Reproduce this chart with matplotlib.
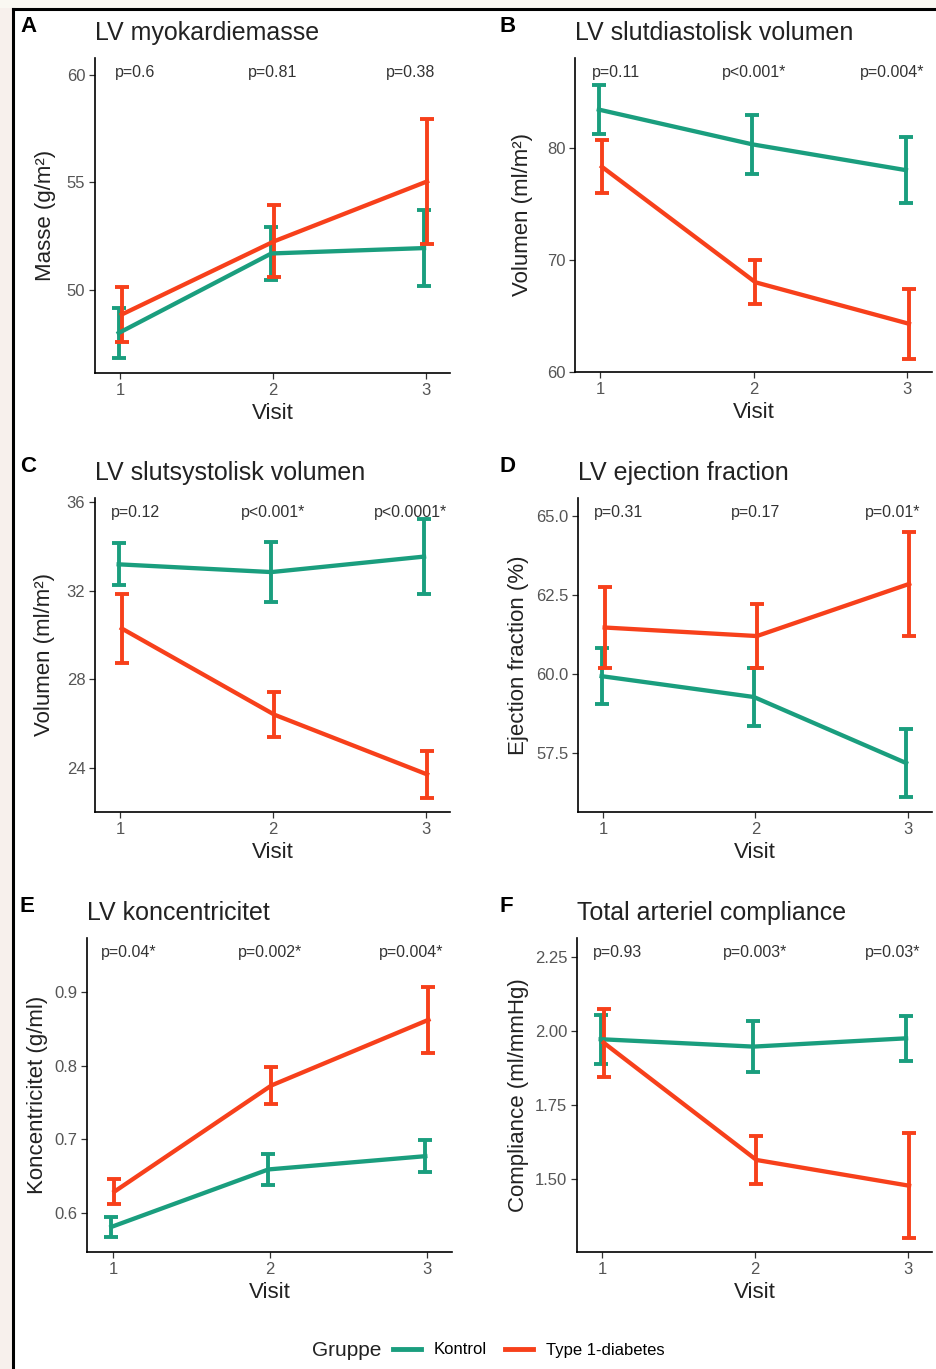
import matplotlib
matplotlib.use("Agg")
import matplotlib.pyplot as plt
from matplotlib.lines import Line2D
from matplotlib.patches import Rectangle

plt.rcParams["font.family"] = ["Liberation Sans", "DejaVu Sans"]

# ---- data -------------------------------------------------------------
visits = [1, 2, 3]
groups = ["Kontrol", "Type 1-diabetes"]

mass_kontrol = [48.0, 51.7, 51.95]
mass_kontrol_se = [1.15, 1.25, 1.77]
mass_t1d = [48.86, 52.27, 55.05]
mass_t1d_se = [1.28, 1.67, 2.9]
mass_p = ["p=0.6", "p=0.81", "p=0.38"]

edv_kontrol = [83.4, 80.3, 78.0]
edv_kontrol_se = [2.15, 2.65, 2.95]
edv_t1d = [78.3, 68.0, 64.3]
edv_t1d_se = [2.35, 1.95, 3.1]
edv_p = ["p=0.11", "p<0.001*", "p=0.004*"]

esv_kontrol = [33.2, 32.85, 33.55]
esv_kontrol_se = [0.95, 1.35, 1.68]
esv_t1d = [30.3, 26.4, 23.7]
esv_t1d_se = [1.55, 1.03, 1.08]
esv_p = ["p=0.12", "p<0.001*", "p<0.0001*"]

ef_kontrol = [59.93, 59.27, 57.18]
ef_kontrol_se = [0.88, 0.92, 1.08]
ef_t1d = [61.47, 61.2, 62.85]
ef_t1d_se = [1.27, 1.0, 1.65]
ef_p = ["p=0.31", "p=0.17", "p=0.01*"]

conc_kontrol = [0.581, 0.659, 0.677]
conc_kontrol_se = [0.0135, 0.021, 0.022]
conc_t1d = [0.629, 0.773, 0.862]
conc_t1d_se = [0.0175, 0.0255, 0.045]
conc_p = ["p=0.04*", "p=0.002*", "p=0.004*"]

comp_kontrol = [1.972, 1.947, 1.975]
comp_kontrol_se = [0.083, 0.087, 0.076]
comp_t1d = [1.96, 1.564, 1.477]
comp_t1d_se = [0.115, 0.081, 0.178]
comp_p = ["p=0.93", "p=0.003*", "p=0.03*"]

# ---- figure -----------------------------------------------------------
W, H = 937, 1369
fig = plt.figure(figsize=(W / 100, H / 100), dpi=100)
fig.patch.set_facecolor("white")

GREEN = "#1A9E7E"
RED = "#F7401B"
DODGE = 0.01


def px_rect(left, right, top, bottom):
    return [left / W, 1 - bottom / H, (right - left) / W, (bottom - top) / H]


panels = [
    dict(letter="A", title="LV myokardiemasse", ylabel="Masse (g/m²)",
         box=(95, 450, 58, 373), ylim=(46.14, 60.79), yticks=[50, 55, 60],
         fmt="{:.0f}", k=(mass_kontrol, mass_kontrol_se), t=(mass_t1d, mass_t1d_se),
         p=mass_p, ylab_x=45),
    dict(letter="B", title="LV slutdiastolisk volumen", ylabel="Volumen (ml/m²)",
         box=(575, 932, 58, 372), ylim=(60.0, 88.0), yticks=[60, 70, 80],
         fmt="{:.0f}", k=(edv_kontrol, edv_kontrol_se), t=(edv_t1d, edv_t1d_se),
         p=edv_p, ylab_x=523),
    dict(letter="C", title="LV slutsystolisk volumen", ylabel="Volumen (ml/m²)",
         box=(95, 450, 498, 812), ylim=(22.0, 36.2), yticks=[24, 28, 32, 36],
         fmt="{:.0f}", k=(esv_kontrol, esv_kontrol_se), t=(esv_t1d, esv_t1d_se),
         p=esv_p, ylab_x=45),
    dict(letter="D", title="LV ejection fraction", ylabel="Ejection fraction (%)",
         box=(578, 932, 498, 812), ylim=(55.63, 65.57), yticks=[57.5, 60.0, 62.5, 65.0],
         fmt="{:.1f}", k=(ef_kontrol, ef_kontrol_se), t=(ef_t1d, ef_t1d_se),
         p=ef_p, ylab_x=519),
    dict(letter="E", title="LV koncentricitet", ylabel="Koncentricitet (g/ml)",
         box=(87, 452, 938, 1252), ylim=(0.547, 0.973), yticks=[0.6, 0.7, 0.8, 0.9],
         fmt="{:.1f}", k=(conc_kontrol, conc_kontrol_se), t=(conc_t1d, conc_t1d_se),
         p=conc_p, ylab_x=38),
    dict(letter="F", title="Total arteriel compliance", ylabel="Compliance (ml/mmHg)",
         box=(577, 932, 938, 1252), ylim=(1.253, 2.314), yticks=[1.5, 1.75, 2.0, 2.25],
         fmt="{:.2f}", k=(comp_kontrol, comp_kontrol_se), t=(comp_t1d, comp_t1d_se),
         p=comp_p, ylab_x=519),
]

for pnl in panels:
    left, right, top, bottom = pnl["box"]
    ax = fig.add_axes(px_rect(left, right, top, bottom))
    ax.set_facecolor("white")

    for (means, se), col, off in ((pnl["k"], GREEN, -DODGE), (pnl["t"], RED, DODGE)):
        xs = [v + off for v in visits]
        ax.errorbar(xs, means, yerr=se, color=col, lw=3.1, elinewidth=2.8,
                    capsize=5.0, capthick=2.8, zorder=3)

    ax.set_xlim(0.835, 3.16)
    ax.set_ylim(*pnl["ylim"])
    ax.set_xticks(visits)
    ax.set_xticklabels([str(v) for v in visits])
    ax.set_yticks(pnl["yticks"])
    ax.set_yticklabels([pnl["fmt"].format(v) for v in pnl["yticks"]])
    ax.tick_params(axis="both", labelsize=12, labelcolor="#555555",
                   color="#333333", length=4, width=0.9, pad=3)

    for side in ("top", "right"):
        ax.spines[side].set_visible(False)
    for side in ("left", "bottom"):
        ax.spines[side].set_linewidth(1.2)
        ax.spines[side].set_color("black")

    ax.set_xlabel("Visit", fontsize=16, color="#222222", labelpad=4)
    ax.set_ylabel(pnl["ylabel"], fontsize=16, color="#222222", va="center")
    ax.yaxis.set_label_coords((pnl["ylab_x"] - left) / (right - left), 0.5)

    for xv, label in zip([1.1, 2.0, 2.9], pnl["p"]):
        ax.text(xv, 0.955, label, transform=ax.get_xaxis_transform(),
                ha="center", va="center", fontsize=11.5, color="#333333")

    fig.text(left / W, 1 - (top - 25) / H, pnl["title"], fontsize=18,
             color="#222222", ha="left", va="center")
    lx = 20 if left < 300 else 500
    fig.text(lx / W, 1 - (top - 31) / H, pnl["letter"], fontsize=16,
             fontweight="bold", color="black", ha="left", va="center")

# ---- legend -----------------------------------------------------------
fig.text(312 / W, 1 - 1350 / H, "Gruppe", fontsize=15, color="#222222",
         ha="left", va="center")
handles = [Line2D([], [], color=GREEN, lw=3.5), Line2D([], [], color=RED, lw=3.5)]
fig.legend(handles, groups, loc="center left", bbox_to_anchor=(393 / W, 1 - 1350 / H),
           ncol=2, frameon=False, fontsize=12, handlelength=1.65, handletextpad=0.8,
           columnspacing=1.1, borderaxespad=0, borderpad=0)

# ---- outer frame ------------------------------------------------------
fig.patches.append(Rectangle((0, 0), 13 / W, 1, transform=fig.transFigure,
                             facecolor="#f7f0ec", edgecolor="none", zorder=0))
fig.patches.append(Rectangle((0, 1 - 8 / H), 1, 8 / H, transform=fig.transFigure,
                             facecolor="#faf8f2", edgecolor="none", zorder=0))
fig.add_artist(Line2D([13.5 / W, 13.5 / W], [0, 1 - 8.5 / H], transform=fig.transFigure,
                      color="black", lw=2.2))
fig.add_artist(Line2D([13.5 / W, 1], [1 - 8.5 / H, 1 - 8.5 / H], transform=fig.transFigure,
                      color="black", lw=2.2))

fig.savefig("out.png", dpi=100)
